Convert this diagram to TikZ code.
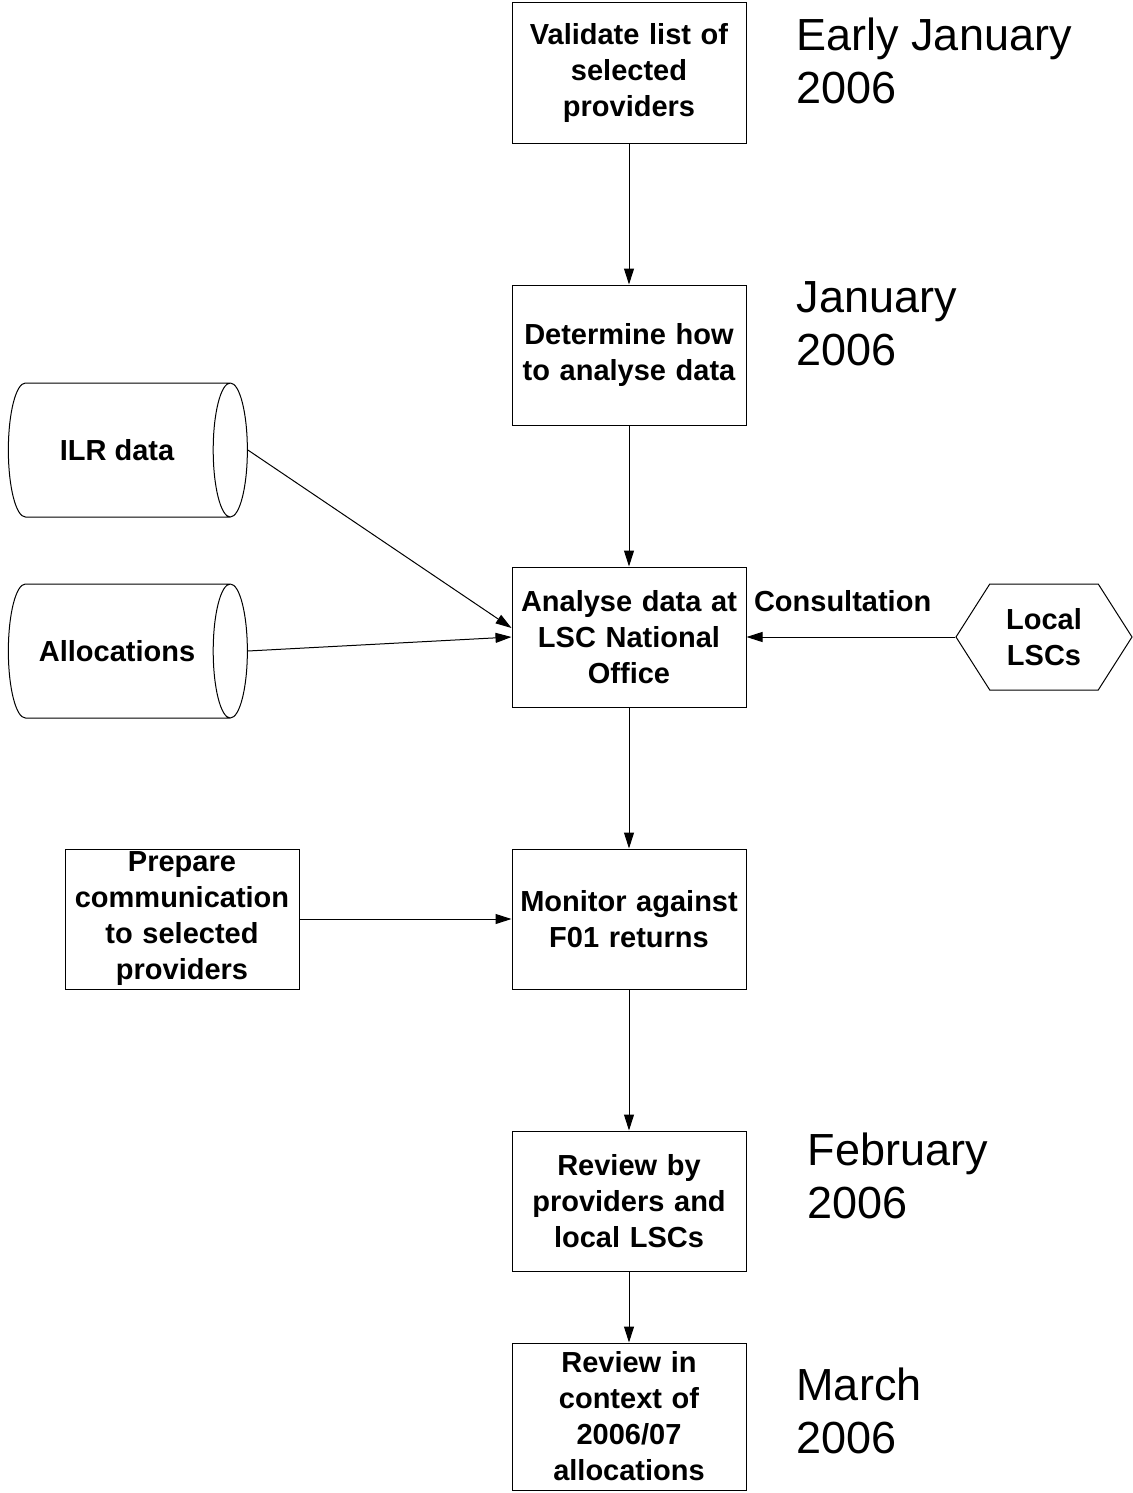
\documentclass[tikz,border=0pt]{standalone}
\usepackage{fontspec}
\setmainfont{Liberation Sans}
\usetikzlibrary{arrows.meta,shapes.geometric,shapes.symbols}

\tikzset{
  stepbox/.style={draw, rectangle, minimum width=117pt, minimum height=70pt,
    inner sep=1pt, text width=115pt, align=center,
    font=\fontsize{14.5}{18}\selectfont\bfseries},
  store/.style={draw, cylinder, aspect=1.35, minimum width=67pt,
    minimum height=119.5pt, inner sep=1pt,
    font=\fontsize{14.5}{18}\selectfont\bfseries},
  office/.style={draw, signal, signal to=west and east, signal pointer angle=115,
    minimum width=88pt, minimum height=53pt, inner sep=1pt, align=center,
    font=\fontsize{14.5}{18}\selectfont\bfseries},
  when/.style={anchor=west, align=left, inner sep=0pt,
    font=\fontsize{22.5}{26.5}\selectfont},
  flow/.style={-{Triangle[length=8pt,width=5pt]}, line width=0.5pt},
}

\begin{document}
\begin{tikzpicture}[x=0.5pt, y=-0.5pt, line width=0.5pt]
\useasboundingbox (0,0) rectangle (1133,1493);

\node[stepbox] (validate) at (629,73)  {Validate list of\\ selected\\ providers};
\node[stepbox] (determine) at (629,355) {Determine how\\ to analyse data};
\node[stepbox] (analyse) at (629,637) {Analyse data at\\ LSC National\\ Office};
\node[stepbox] (monitor) at (629,919) {Monitor against\\ F01 returns};
\node[stepbox] (review) at (629,1201) {Review by\\ providers and\\ local LSCs};
\node[stepbox, minimum height=73.5pt] (context) at (629,1416.5) {Review in\\ context of\\ 2006/07\\ allocations};
\node[stepbox] (prepare) at (182,919) {Prepare\\ communication\\ to selected\\ providers};

\node[store] (ilr) at (117,450) {ILR data};
\node[store] (alloc) at (117,651) {Allocations};
\node[office] (local) at (1044,637) {Local\\ LSCs};

\node[when] (early) at (796,61) {Early January\\ 2006};
\node[when] (jan) at (796,324) {January\\ 2006};
\node[when] (feb) at (807,1176) {February\\ 2006};
\node[when] (mar) at (796,1411) {March\\ 2006};

% main line
\path[flow] (validate) edge (determine);
\path[flow] (determine) edge (analyse);
\path[flow] (analyse) edge (monitor);
\path[flow] (monitor) edge (review);
\path[flow] (review) edge (context);

% inputs
\path[flow] (ilr.east) edge ([yshift=4.5pt]analyse.west);
\path[flow] (alloc.east) edge (analyse.west);
\path[flow] (local.west) edge node[above, pos=0.54, yshift=9pt,
     font=\fontsize{14.5}{18}\selectfont\bfseries] {Consultation} (analyse.east);
\path[flow] (prepare) edge (monitor);
\end{tikzpicture}
\end{document}
